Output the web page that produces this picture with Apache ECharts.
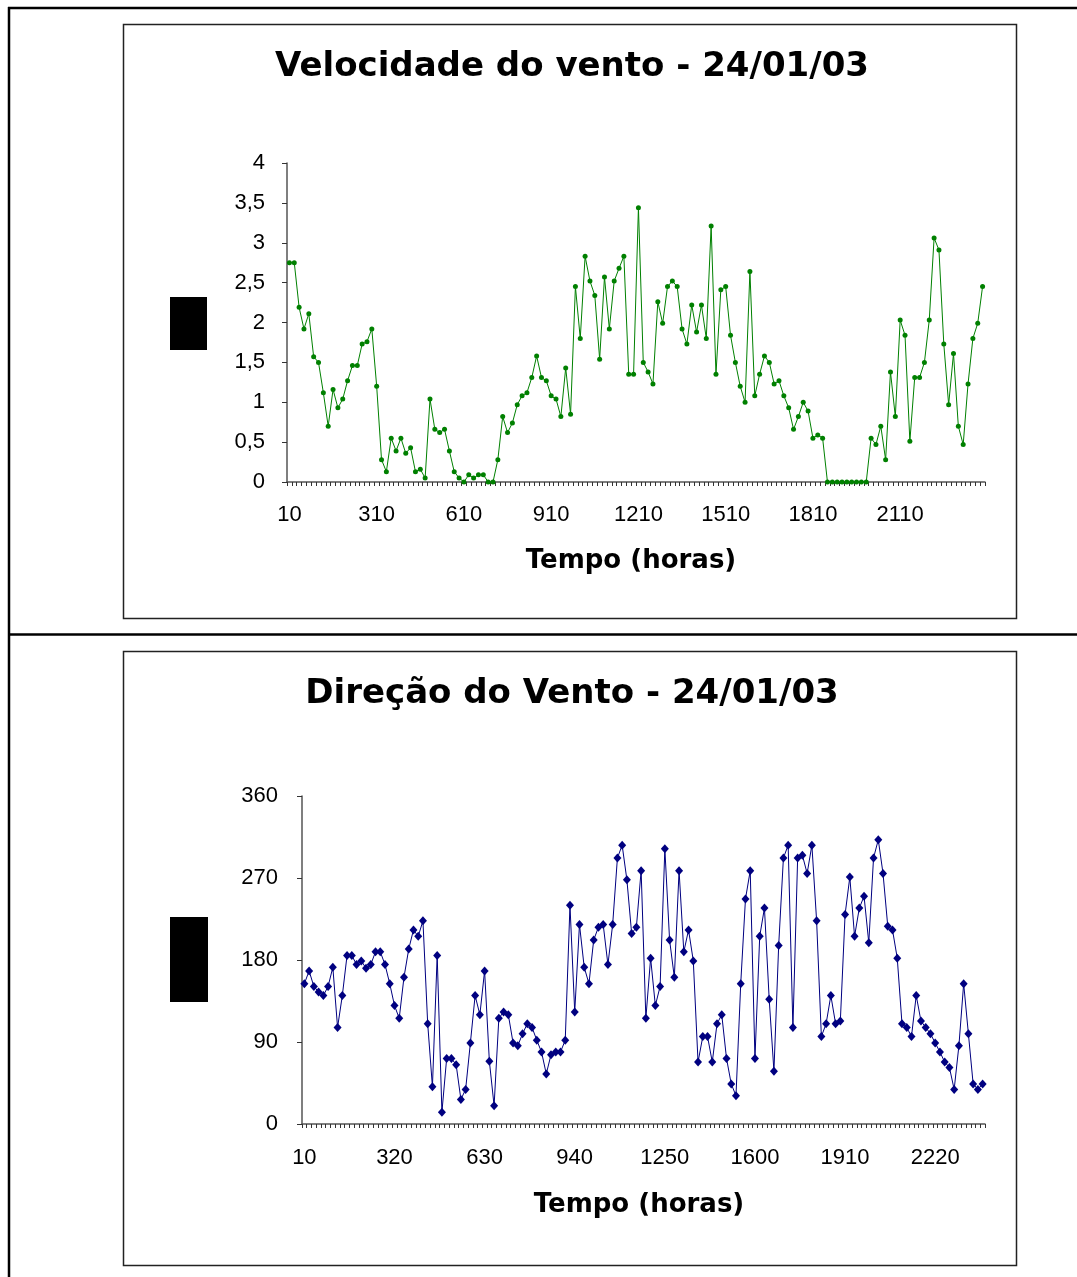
<!DOCTYPE html>
<html><head><meta charset="utf-8">
<script src="https://cdn.jsdelivr.net/npm/echarts@6/dist/echarts.min.js"></script>
<style>html,body{margin:0;padding:0;background:#fff}#c{width:1077px;height:1277px}</style>
</head><body><div id="c"></div>
<script>
const times = [
"10","20","30","40","50",
"100","110","120","130","140","150",
"200","210","220","230","240","250",
"300","310","320","330","340","350",
"400","410","420","430","440","450",
"500","510","520","530","540","550",
"600","610","620","630","640","650",
"700","710","720","730","740","750",
"800","810","820","830","840","850",
"900","910","920","930","940","950",
"1000","1010","1020","1030","1040","1050",
"1100","1110","1120","1130","1140","1150",
"1200","1210","1220","1230","1240","1250",
"1300","1310","1320","1330","1340","1350",
"1400","1410","1420","1430","1440","1450",
"1500","1510","1520","1530","1540","1550",
"1600","1610","1620","1630","1640","1650",
"1700","1710","1720","1730","1740","1750",
"1800","1810","1820","1830","1840","1850",
"1900","1910","1920","1930","1940","1950",
"2000","2010","2020","2030","2040","2050",
"2100","2110","2120","2130","2140","2150",
"2200","2210","2220","2230","2240","2250",
"2300","2310","2320","2330","2340","2350",
"2400"];

const speed = [
2.75,2.75,2.19,1.92,2.11,1.57,1.50,1.12,0.70,1.16,
0.93,1.04,1.27,1.46,1.46,1.73,1.76,1.92,1.20,0.28,
0.13,0.55,0.39,0.55,0.36,0.43,0.13,0.16,0.05,1.04,
0.66,0.62,0.66,0.39,0.13,0.05,0.00,0.09,0.05,0.09,
0.09,0.00,0.00,0.28,0.82,0.62,0.74,0.97,1.08,1.12,
1.31,1.58,1.31,1.27,1.08,1.04,0.82,1.43,0.85,2.45,
1.80,2.83,2.52,2.34,1.54,2.57,1.92,2.52,2.68,2.83,
1.35,1.35,3.44,1.50,1.38,1.23,2.26,1.99,2.45,2.52,
2.45,1.92,1.73,2.22,1.88,2.22,1.80,3.21,1.35,2.41,
2.45,1.84,1.50,1.20,1.00,2.64,1.08,1.35,1.58,1.50,
1.23,1.27,1.08,0.93,0.66,0.82,1.00,0.89,0.55,0.59,
0.55,0.00,0.00,0.00,0.00,0.00,0.00,0.00,0.00,0.00,
0.55,0.47,0.70,0.28,1.38,0.82,2.03,1.84,0.51,1.31,
1.31,1.50,2.03,3.06,2.91,1.73,0.97,1.61,0.70,0.47,
1.23,1.80,1.99,2.45];

const direction = [
154,168,151,145,141,151,172,106,141,185,
185,175,179,171,175,189,189,175,154,130,
116,161,192,213,206,223,110,41,185,13,
72,72,65,27,38,89,141,120,168,69,
20,116,123,120,89,86,99,110,106,92,
79,55,76,79,79,92,240,123,219,172,
154,202,216,219,175,219,292,306,268,209,
216,278,116,182,130,151,302,202,161,278,
189,213,179,68,96,96,68,110,120,72,
44,31,154,247,278,72,206,237,137,58,
196,292,306,106,292,295,275,306,223,96,
110,141,110,113,230,271,206,237,250,199,
292,312,275,217,213,182,110,106,96,141,
113,106,99,89,79,68,62,38,86,154,
99,44,38,44];

const speedTitle = "Velocidade do vento - 24/01/03";
const dirTitle = "Direção do Vento - 24/01/03";
const xName = "Tempo (horas)";

const chart = echarts.init(document.getElementById('c'), null, {renderer:'canvas'});
const labelFont = {fontSize:22, color:'#000', fontFamily:'Liberation Sans'};
function xAx(gi, interval, margin){
  return {type:'category', gridIndex:gi, data:times, boundaryGap:true,
    axisLine:{show:true, lineStyle:{color:'#555', width:1.5}},
    axisTick:{show:true, interval:0, length:4, lineStyle:{color:'#333', width:1}},
    axisLabel:Object.assign({interval:interval, margin:margin, hideOverlap:false}, labelFont),
    splitLine:{show:false}};
}
function yAx(gi, max, interval, margin){
  return {type:'value', gridIndex:gi, min:0, max:max, interval:interval,
    axisLine:{show:true, lineStyle:{color:'#555', width:1.5}},
    axisTick:{show:true, length:5, lineStyle:{color:'#333', width:1}},
    axisLabel:Object.assign({margin:margin, formatter:v=>String(v).replace('.',',')}, labelFont),
    splitLine:{show:false}};
}
const txt = (text, x, y, size) => ({type:'text', x:x, y:y, z:10,
  style:{text:text, fill:'#000', font:'bold '+size+'px "DejaVu Sans", sans-serif', align:'center', verticalAlign:'middle'}});

chart.setOption({
  animation:false,
  backgroundColor:'#fff',
  grid:[{left:287, top:163, width:698, height:319},{left:302, top:796, width:683, height:328}],
  xAxis:[xAx(0,17,22), xAx(1,18,23)],
  yAxis:[yAx(0,4,0.5,22), yAx(1,360,90,24)],
  series:[
    {type:'line', xAxisIndex:0, yAxisIndex:0, data:speed, symbol:'circle', symbolSize:5, showAllSymbol:true,
     itemStyle:{color:'#008000'}, lineStyle:{color:'#008000', width:1}},
    {type:'line', xAxisIndex:1, yAxisIndex:1, data:direction, symbol:'diamond', symbolSize:[8,9], showAllSymbol:true,
     itemStyle:{color:'#000080'}, lineStyle:{color:'#000080', width:1}}
  ],
  graphic:[
    {type:'line', shape:{x1:8,y1:8,x2:1077,y2:8}, style:{stroke:'#000', lineWidth:2.5}},
    {type:'line', shape:{x1:9,y1:7,x2:9,y2:1277}, style:{stroke:'#000', lineWidth:2.5}},
    {type:'line', shape:{x1:8,y1:634.5,x2:1077,y2:634.5}, style:{stroke:'#000', lineWidth:2.5}},
    {type:'rect', shape:{x:123.5,y:24.5,width:893,height:594}, style:{stroke:'#222', lineWidth:1.5, fill:null}},
    {type:'rect', shape:{x:123.5,y:651.5,width:893,height:614}, style:{stroke:'#222', lineWidth:1.5, fill:null}},
    {type:'rect', shape:{x:170,y:297,width:37,height:53}, style:{fill:'#000'}},
    {type:'rect', shape:{x:170,y:917,width:38,height:85}, style:{fill:'#000'}},
    txt(speedTitle, 572, 67, 34),
    txt(dirTitle, 572, 694, 34),
    txt(xName, 631, 561, 26),
    txt(xName, 639, 1205, 26)
  ]
});
</script></body></html>
